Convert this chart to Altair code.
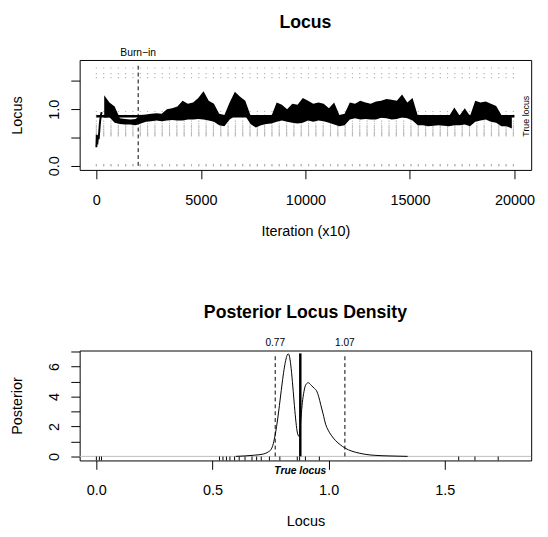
import altair as alt
import pandas as pd

FONT = "Liberation Sans"

# ---------------- data ----------------
markers = [0.0, 0.013, 0.022, 0.53, 0.545, 0.56, 0.575, 0.595, 0.615, 0.64,
           0.67, 0.69, 0.71, 0.745, 0.79, 0.865, 0.875, 0.9, 0.96,
           1.56, 1.63, 1.73]
sample_step = 350
true_locus = 0.878
burn_in = 2000
ci_low, ci_high = 0.77, 1.07

start_iter = [0, 20, 40, 60, 80, 110, 140, 170, 210, 250]
start_val = [0.33, 0.55, 0.38, 0.45, 0.52, 0.47, 0.62, 0.76, 0.88, 0.95]

trace_lo = [0.85, 0.86, 0.76, 0.74, 0.73, 0.73, 0.72, 0.75, 0.78, 0.79, 0.80, 0.79,
            0.80, 0.81, 0.80, 0.80, 0.82, 0.82, 0.83, 0.82, 0.80, 0.78, 0.72, 0.70,
            0.82, 0.88, 0.90, 0.88, 0.74, 0.68, 0.72, 0.74, 0.75, 0.78, 0.80, 0.78,
            0.76, 0.75, 0.76, 0.80, 0.78, 0.80, 0.79, 0.76, 0.73, 0.70, 0.72, 0.82,
            0.84, 0.82, 0.83, 0.82, 0.82, 0.85, 0.84, 0.82, 0.83, 0.86, 0.84, 0.80,
            0.72, 0.72, 0.70, 0.71, 0.72, 0.71, 0.70, 0.72, 0.72, 0.73, 0.70, 0.78,
            0.80, 0.82, 0.78, 0.76, 0.70, 0.70, 0.66]
trace_hi = [1.25, 1.12, 1.05, 0.84, 0.83, 0.82, 0.83, 0.90, 0.91, 0.92, 0.93, 0.92,
            1.00, 1.02, 1.05, 1.15, 1.10, 1.12, 1.20, 1.32, 1.15, 1.10, 0.92, 0.90,
            1.12, 1.31, 1.22, 1.15, 0.89, 0.88, 0.88, 0.87, 0.88, 1.12, 1.08, 1.00,
            1.10, 1.08, 1.20, 1.15, 1.10, 1.12, 1.10, 1.02, 1.12, 0.90, 0.92, 1.12,
            1.10, 1.15, 1.12, 1.10, 1.14, 1.15, 1.18, 1.17, 1.15, 1.26, 1.12, 1.20,
            0.89, 0.88, 0.88, 0.87, 0.88, 0.88, 0.88, 1.03, 0.89, 1.02, 0.88, 1.15,
            1.12, 1.14, 1.10, 1.06, 0.90, 0.88, 0.86]
trace_iter = [250 * i + 125 for i in range(1, 80)]

dens_x = [0.60, 0.64, 0.68, 0.72, 0.74, 0.751, 0.76, 0.768, 0.776, 0.784, 0.792,
          0.80, 0.808, 0.815, 0.821, 0.826, 0.831, 0.837, 0.844, 0.851, 0.858,
          0.864, 0.871, 0.876, 0.881, 0.887, 0.894, 0.902, 0.913, 0.925, 0.938,
          0.948, 0.957, 0.966, 0.976, 0.987, 0.998, 1.011, 1.03, 1.05, 1.071,
          1.10, 1.131, 1.165, 1.20, 1.26, 1.34]
dens_y = [0.0, 0.03, 0.08, 0.16, 0.30, 0.44, 0.75, 1.3, 2.0, 2.9, 3.9,
          4.9, 5.8, 6.4, 6.75, 6.85, 6.7, 6.1, 5.0, 3.7, 2.5,
          1.7, 1.36, 1.6, 2.6, 3.6, 4.35, 4.8, 4.92, 4.75, 4.55,
          4.38, 4.0, 3.45, 2.85, 2.15, 1.75, 1.42, 1.05, 0.78, 0.55,
          0.35, 0.22, 0.12, 0.07, 0.03, 0.0]
dens_top = 6.88

top_x_ticks = [0, 5000, 10000, 15000, 20000]
top_y_ticks = [0, 0.5, 1.0, 1.5]
top_y_labels = ["0.0", "", "1.0", ""]
bot_x_ticks = [0, 0.5, 1.0, 1.5]
bot_y_ticks = [0, 1, 2, 3, 4, 5, 6, 7]
bot_y_labels = ["0", "", "2", "", "4", "", "6", ""]

# ---------------- build ----------------
W, H = 460, 112

xs_top = alt.Scale(domain=[-800, 20800], nice=False, zero=False)
ys_top = alt.Scale(domain=[-0.072, 1.872], nice=False, zero=False)
xs_bot = alt.Scale(domain=[-0.072, 1.872], nice=False, zero=False)
ys_bot = alt.Scale(domain=[-0.272, 7.072], nice=False, zero=False)


def label_expr(ticks, labels):
    parts = "".join(f"abs(datum.value - {t}) < 1e-6 ? '{l}' : " for t, l in zip(ticks, labels))
    return parts + "''"


ax_top_x = alt.Axis(values=top_x_ticks, format="d", title="Iteration (x10)",
                    labelPadding=14, titlePadding=17, labelOverlap=False)
ax_top_y = alt.Axis(values=top_y_ticks, title="Locus", labelAngle=270,
                    labelExpr=label_expr(top_y_ticks, top_y_labels),
                    labelPadding=10, titlePadding=22, labelOverlap=False)
ax_bot_x = alt.Axis(values=bot_x_ticks, format=".1f", title="Locus",
                    labelPadding=14, titlePadding=17, labelOverlap=False)
ax_bot_y = alt.Axis(values=bot_y_ticks, title="Posterior", labelAngle=270,
                    labelExpr=label_expr(bot_y_ticks, bot_y_labels),
                    labelPadding=10, titlePadding=22, labelOverlap=False)


def XT(field):
    return alt.X(field, scale=xs_top, axis=ax_top_x)


def YT(field):
    return alt.Y(field, scale=ys_top, axis=ax_top_y)


def XB(field):
    return alt.X(field, scale=xs_bot, axis=ax_bot_x)


def YB(field):
    return alt.Y(field, scale=ys_bot, axis=ax_bot_y)


# ---- upper panel ----
dots = pd.DataFrame([(it, m) for it in range(0, 20000, sample_step) for m in markers],
                    columns=["it", "loc"])
g_dots = alt.Chart(dots).mark_square(size=1.3, color="#b0b0b0", opacity=1).encode(
    x=XT("it:Q"), y=YT("loc:Q"))

burn = alt.Chart(pd.DataFrame({"it": [burn_in], "y0": [0.0], "y1": [1.8]})).mark_rule(
    color="black", strokeWidth=1, strokeDash=[4, 3]).encode(
    x=XT("it:Q"), y=YT("y0:Q"), y2="y1:Q")

start_line = alt.Chart(pd.DataFrame({"it": start_iter, "v": start_val})).mark_line(
    color="black", strokeWidth=2).encode(x=XT("it:Q"), y=YT("v:Q"))

trace = alt.Chart(pd.DataFrame({"it": trace_iter, "lo": trace_lo, "hi": trace_hi})).mark_area(
    color="black", opacity=1, interpolate="linear").encode(
    x=XT("it:Q"), y=YT("lo:Q"), y2="hi:Q")

tl_line = alt.Chart(pd.DataFrame({"a": [0], "b": [20000], "v": [true_locus]})).mark_rule(
    color="black", strokeWidth=2.5).encode(x=XT("a:Q"), x2="b:Q", y=YT("v:Q"))

burn_txt = alt.Chart(pd.DataFrame({"it": [burn_in], "t": ["Burn\u2212in"]})).mark_text(
    font=FONT, fontSize=10.5, baseline="middle", align="center", color="black").encode(
    x=XT("it:Q"), y=alt.value(-7), text="t:N")

tl_txt = alt.Chart(pd.DataFrame({"it": [20576], "v": [true_locus], "t": ["True locus"]})).mark_text(
    font=FONT, fontSize=9, angle=270, baseline="middle", align="center", color="black").encode(
    x=XT("it:Q"), y=YT("v:Q"), text="t:N")

top = alt.layer(g_dots, burn, start_line, trace, tl_line, burn_txt, tl_txt).properties(
    width=W, height=H, title=alt.TitleParams("Locus", offset=17))

# ---- lower panel ----
zero_line = alt.Chart(pd.DataFrame({"v": [0.0]})).mark_rule(color="#bebebe", strokeWidth=1).encode(
    x=alt.value(0), x2=alt.value(W), y=YB("v:Q"))

rug = alt.Chart(pd.DataFrame({"m": markers})).mark_rule(color="black", strokeWidth=1).encode(
    x=XB("m:Q"), y=alt.value(H), y2=alt.value(H - 4))

dens = alt.Chart(pd.DataFrame({"x": dens_x, "y": dens_y})).mark_line(
    color="black", strokeWidth=1, interpolate="monotone").encode(x=XB("x:Q"), y=YB("y:Q"))

ci = alt.Chart(pd.DataFrame({"x": [ci_low, ci_high], "y0": [0.0, 0.0], "y1": [dens_top, dens_top],
                             "t": ["0.77", "1.07"]}))
ci_rules = ci.mark_rule(color="black", strokeWidth=1, strokeDash=[4, 3]).encode(
    x=XB("x:Q"), y=YB("y0:Q"), y2="y1:Q")
ci_txt = ci.mark_text(font=FONT, fontSize=10.3, baseline="middle", align="center",
                      color="black").encode(x=XB("x:Q"), y=alt.value(-8), text="t:N")

tl_v = alt.Chart(pd.DataFrame({"x": [true_locus], "y0": [0.0], "y1": [dens_top],
                               "t": ["True locus"]}))
tl_vrule = tl_v.mark_rule(color="black", strokeWidth=2.5).encode(
    x=XB("x:Q"), y=YB("y0:Q"), y2="y1:Q")
tl_vtxt = tl_v.mark_text(font=FONT, fontSize=10.5, fontWeight="bold", fontStyle="italic",
                         baseline="middle", align="center", color="black").encode(
    x=XB("x:Q"), y=alt.value(H + 11), text="t:N")

bottom = alt.layer(zero_line, rug, dens, ci_rules, tl_vrule, ci_txt, tl_vtxt).properties(
    width=W, height=H, title=alt.TitleParams("Posterior Locus Density", offset=16))

chart = alt.vconcat(top, bottom, spacing=66).properties(
    padding={"left": 1, "top": 0, "right": 5, "bottom": 2}
).configure_view(stroke="black", strokeWidth=1).configure_axis(
    grid=False, domain=False, tickColor="black", tickSize=9, ticks=True,
    labelColor="black", titleColor="black", labelFont=FONT, titleFont=FONT,
    labelFontSize=14.7, titleFontSize=14.7, titleFontWeight="normal",
).configure_title(font=FONT, fontSize=18, fontWeight="bold", color="black", anchor="middle")

chart.save("out.html", embed_options={"renderer": "svg", "actions": False})
